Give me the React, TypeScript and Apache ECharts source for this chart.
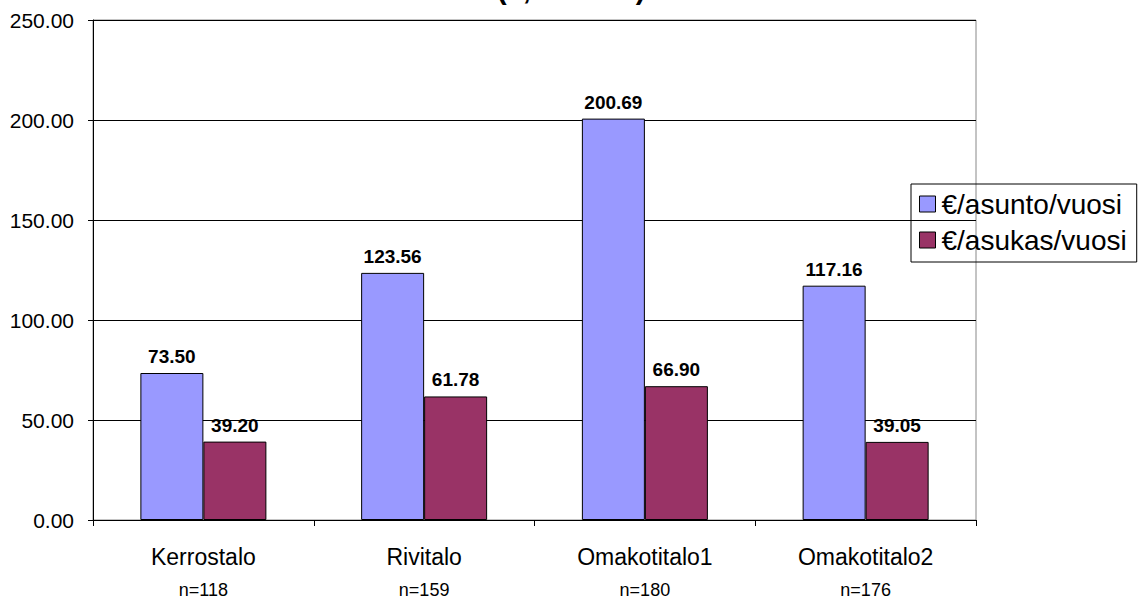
import React, { useEffect, useRef } from "react";
import * as echarts from "echarts";

const categories = ["Kerrostalo", "Rivitalo", "Omakotitalo1", "Omakotitalo2"];
const sampleSizes = ["n=118", "n=159", "n=180", "n=176"];
const perDwelling = [73.5, 123.56, 200.69, 117.16];
const perResident = [39.2, 61.78, 66.9, 39.05];
const seriesNames = ["€/asunto/vuosi", "€/asukas/vuosi"];
const titleText = "(€, sis. alv)";

export default function App() {
  const ref = useRef<HTMLDivElement>(null);
  useEffect(() => {
    const chart = echarts.init(ref.current!, null, { renderer: "svg" });
    const font = "'Liberation Sans', Arial, sans-serif";
    const labelStyle = {
      show: true,
      position: "top" as const,
      distance: 7,
      fontFamily: font,
      fontWeight: "bold" as const,
      fontSize: 19,
      color: "#000",
      formatter: (p: any) => Number(p.value).toFixed(2),
    };
    chart.setOption({
      animation: false,
      backgroundColor: "#fff",
      textStyle: { fontFamily: font },
      title: {
        text: titleText,
        left: 497,
        top: -26,
        padding: 0,
        textStyle: { fontFamily: font, fontWeight: "bold", fontSize: 29, color: "#000" },
      },
      legend: {
        orient: "vertical",
        left: 911,
        top: 184,
        padding: [6, 10, 8, 8],
        itemGap: 8,
        itemWidth: 16,
        itemHeight: 16,
        borderColor: "#000",
        borderWidth: 1,
        icon: "rect",
        textStyle: { fontFamily: font, fontSize: 28, color: "#000", padding: [0, 0, 0, 1], lineHeight: 28 },
        data: seriesNames.map((n) => ({ name: n, itemStyle: { borderColor: "#000", borderWidth: 1 } })),
      },
      grid: {
        left: 93,
        top: 20,
        width: 883,
        height: 501,
        show: true,
        borderColor: "#888",
        borderWidth: 1,
      },
      xAxis: {
        type: "category",
        data: categories.map((c, i) => c + "\n" + sampleSizes[i]),
        axisLine: { lineStyle: { color: "#000", width: 1 } },
        axisTick: { show: true, length: 6, lineStyle: { color: "#000" } },
        axisLabel: {
          margin: 20,
          formatter: (v: string) => {
            const [a, b] = v.split("\n");
            return "{c|" + a + "}\n{n|" + b + "}";
          },
          rich: {
            c: { fontFamily: font, fontSize: 23, color: "#000", lineHeight: 34 },
            n: { fontFamily: font, fontSize: 18, color: "#000", lineHeight: 32 },
          },
        },
      },
      yAxis: {
        type: "value",
        min: 0,
        max: 250,
        interval: 50,
        axisLine: { show: true, lineStyle: { color: "#000", width: 1 } },
        axisTick: { show: true, length: 5, lineStyle: { color: "#000" } },
        axisLabel: {
          fontFamily: font,
          fontSize: 21,
          color: "#000",
          margin: 19,
          formatter: (v: number) => v.toFixed(2),
        },
        splitLine: { lineStyle: { color: "#000", width: 1 } },
      },
      series: [
        {
          name: seriesNames[0],
          type: "bar",
          data: perDwelling,
          barWidth: 63,
          barGap: "0%",
          itemStyle: { color: "#9999FF", borderColor: "#000", borderWidth: 1 },
          label: labelStyle,
        },
        {
          name: seriesNames[1],
          type: "bar",
          data: perResident,
          barWidth: 63,
          barGap: "0%",
          itemStyle: { color: "#993366", borderColor: "#000", borderWidth: 1 },
          label: labelStyle,
        },
      ],
    });
    return () => chart.dispose();
  }, []);
  return <div ref={ref} style={{ width: 1140, height: 599, position: "absolute", left: 0, top: 0 }} />;
}
